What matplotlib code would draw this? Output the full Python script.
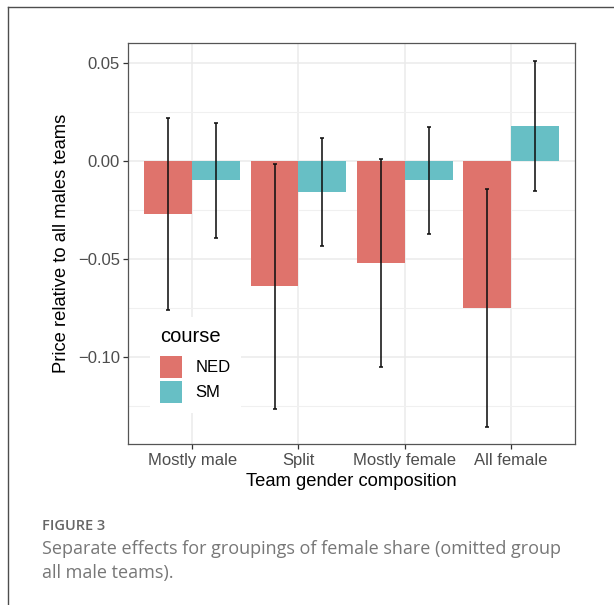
import numpy as np
import matplotlib
matplotlib.use("Agg")
import matplotlib.pyplot as plt
from matplotlib.lines import Line2D
from matplotlib.ticker import FixedLocator, FuncFormatter

# data
groups = ["Mostly male", "Split", "Mostly female", "All female"]
courses = ["NED", "SM"]
ned_est = [-0.0269, -0.0639, -0.0519, -0.0748]
ned_lo = [-0.0760, -0.1267, -0.1048, -0.1359]
ned_hi = [0.0221, -0.0012, 0.0010, -0.0143]
sm_est = [-0.0098, -0.0158, -0.0098, 0.0180]
sm_lo = [-0.0393, -0.0434, -0.0372, -0.0153]
sm_hi = [0.0196, 0.0116, 0.0175, 0.0512]

colors = {"NED": "#DF736C", "SM": "#67BFC5"}

plt.rcParams['font.family'] = ['Liberation Sans', 'DejaVu Sans']

W, H = 614, 605
fig = plt.figure(figsize=(W / 100, H / 100), dpi=100)

# axes placed in pixel terms
ax_l, ax_r, ax_t, ax_b = 128.3, 575.0, 42.7, 444.3
ax = fig.add_axes([ax_l / W, 1 - ax_b / H, (ax_r - ax_l) / W, (ax_b - ax_t) / H])

x = np.arange(1, len(groups) + 1)
bw = 0.45
series = [(ned_est, ned_lo, ned_hi), (sm_est, sm_lo, sm_hi)]
for k, (name, (est, lo, hi)) in enumerate(zip(courses, series)):
    xs = x + (k - 0.5) * bw
    est = np.array(est)
    ax.bar(xs, est, width=bw, color=colors[name], label=name, zorder=2)
    yerr = np.vstack([est - np.array(lo), np.array(hi) - est])
    ax.errorbar(xs, est, yerr=yerr, fmt='none', ecolor='#111111',
                elinewidth=1.15, capsize=1.6, capthick=1.15, zorder=3)

ax.set_xlim(0.4, 4.6)
ax.set_ylim(-0.1445, 0.0605)

ax.set_xticks(x)
ax.set_xticklabels(groups)
ax.yaxis.set_major_locator(FixedLocator([-0.10, -0.05, 0.0, 0.05]))
ax.yaxis.set_minor_locator(FixedLocator([-0.125, -0.075, -0.025, 0.025]))
ax.yaxis.set_major_formatter(FuncFormatter(lambda v, p: f"{v:.2f}".replace('-', '\u2212')))

ax.grid(True, which='major', color='#EBEBEB', linewidth=1.1, zorder=0)
ax.grid(True, which='minor', axis='y', color='#F0F0F0', linewidth=0.8, zorder=0)
ax.set_axisbelow(True)

ax.tick_params(axis='both', which='major', length=3.6, width=0.9, color='#333333',
               labelcolor='#4D4D4D', labelsize=12, pad=2.5)
ax.tick_params(axis='y', which='minor', length=0)
for s in ax.spines.values():
    s.set_color('#555555')
    s.set_linewidth(0.9)

ax.set_xlabel("Team gender composition", fontsize=13.2)
ax.xaxis.set_label_coords(0.5, (ax_b - 482) / (ax_b - ax_t))
ax.xaxis.label.set_va('center')
ax.set_ylabel("Price relative to all males teams", fontsize=13.2)
ax.yaxis.set_label_coords((62 - ax_l) / (ax_r - ax_l), 0.5)
ax.yaxis.label.set_va('center')

leg = ax.legend(title="course", loc='upper left',
                bbox_to_anchor=(150 / W, 1 - 317 / H), bbox_transform=fig.transFigure,
                fontsize=12, title_fontsize=14.5, frameon=True, fancybox=False,
                handlelength=1.32, handleheight=1.65, labelspacing=0.16,
                handletextpad=0.8, borderpad=0.62, borderaxespad=0,
                alignment='left')
leg._legend_box.sep = 7.0
leg.get_frame().set_facecolor('white')
leg.get_frame().set_edgecolor('none')
leg.get_frame().set_alpha(1)

# page frame (top and left edges)
fig.add_artist(Line2D([7.8 / W, 1.0], [1 - 6.7 / H, 1 - 6.7 / H], transform=fig.transFigure,
                      color='#4D4D4D', linewidth=1.0))
fig.add_artist(Line2D([7.8 / W, 7.8 / W], [0.0, 1 - 6.7 / H], transform=fig.transFigure,
                      color='#4D4D4D', linewidth=1.0))

# caption
fig.text(41.7 / W, 1 - 530 / H, "FIGURE 3", family=['Open Sans', 'DejaVu Sans'],
         fontsize=10.5, fontweight='semibold', color='#666666', va='baseline', ha='left')
fig.text(41.7 / W, 1 - 554.3 / H, "Separate effects for groupings of female share (omitted group",
         family=['Open Sans', 'DejaVu Sans'], fontsize=13.0, color='#777777',
         va='baseline', ha='left')
fig.text(41.7 / W, 1 - 577.7 / H, "all male teams).",
         family=['Open Sans', 'DejaVu Sans'], fontsize=13.0, color='#777777',
         va='baseline', ha='left')

fig.savefig("out.png", dpi=100, facecolor='white')
